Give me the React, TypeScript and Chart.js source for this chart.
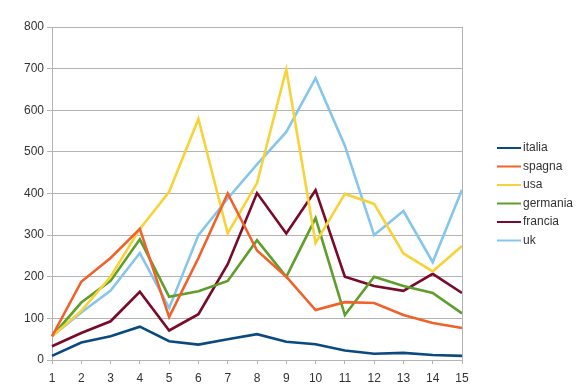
import React, { useEffect, useRef } from "react";
import { Chart, registerables } from "chart.js";

Chart.register(...registerables);

const categories = ["1","2","3","4","5","6","7","8","9","10","11","12","13","14","15"];
const italia = [10, 42, 57, 80, 45, 37, 50, 62, 44, 38, 23, 15, 17, 12, 10];
const spagna = [57, 188, 245, 315, 103, 245, 400, 263, 200, 120, 139, 137, 108, 89, 77];
const usa = [57, 118, 200, 315, 404, 579, 304, 425, 698, 281, 399, 375, 256, 213, 274];
const germania = [57, 138, 190, 290, 152, 165, 190, 288, 200, 341, 108, 200, 178, 161, 112];
const francia = [33, 65, 93, 164, 71, 110, 230, 401, 304, 408, 200, 178, 166, 207, 161];
const uk = [57, 114, 167, 257, 125, 300, 388, 470, 548, 677, 515, 300, 358, 235, 409];

const seriesNames = ["italia", "spagna", "usa", "germania", "francia", "uk"];
const seriesColors = ["#0a4a80", "#f0622a", "#f7d33a", "#5e9e2a", "#7a0a2a", "#87c6ec"];
const seriesData = [italia, spagna, usa, germania, francia, uk];

const FONT = "'Liberation Sans', Arial, sans-serif";

export default function App() {
  const ref = useRef<HTMLCanvasElement | null>(null);
  useEffect(() => {
    if (!ref.current) return;
    const frame = {
      id: "frame",
      afterDraw(chart: any) {
        const { ctx, chartArea } = chart;
        ctx.save();
        ctx.strokeStyle = "#b3b3b3";
        ctx.lineWidth = 1;
        ctx.beginPath();
        ctx.moveTo(Math.round(chartArea.right) + 0.5, chartArea.top);
        ctx.lineTo(Math.round(chartArea.right) + 0.5, chartArea.bottom);
        ctx.stroke();
        // legend
        const lx = chartArea.right + 35;
        const startY = 148;
        const rowH = 18.5;
        ctx.font = "12px " + FONT;
        ctx.textBaseline = "middle";
        ctx.textAlign = "left";
        seriesNames.forEach((n, i) => {
          const y = startY + i * rowH;
          ctx.strokeStyle = seriesColors[i];
          ctx.lineWidth = 2;
          ctx.beginPath();
          ctx.moveTo(lx, y);
          ctx.lineTo(lx + 24, y);
          ctx.stroke();
          ctx.fillStyle = "#333333";
          ctx.fillText(n, lx + 26, y);
        });
        ctx.restore();
      },
    };
    const chart = new Chart(ref.current, {
      type: "line",
      data: {
        labels: categories,
        datasets: seriesNames.map((n, i) => ({
          label: n,
          data: seriesData[i],
          borderColor: seriesColors[i],
          backgroundColor: seriesColors[i],
          borderWidth: 2.6,
          pointRadius: 0,
          tension: 0,
          fill: false,
        })),
      },
      options: {
        animation: false,
        responsive: false,
        maintainAspectRatio: false,
        layout: { padding: { left: 0, top: 27, right: 118, bottom: 0 } },
        plugins: { legend: { display: false }, tooltip: { enabled: false } },
        scales: {
          x: {
            offset: false,
            grid: { display: true, drawOnChartArea: false, drawTicks: true, tickLength: 4, color: "#b3b3b3" },
            border: { display: true, color: "#b3b3b3" },
            ticks: { font: { size: 12, family: FONT }, color: "#333333", padding: 7, maxRotation: 0, autoSkip: false },
            afterFit: (s: any) => { s.height = 28; },
          },
          y: {
            min: 0,
            max: 800,
            ticks: { stepSize: 100, font: { size: 12, family: FONT }, color: "#333333", padding: 3 },
            grid: { color: "#b3b3b3", tickLength: 5 },
            border: { display: true, color: "#b3b3b3" },
            afterFit: (s: any) => { s.width = 52; },
          },
        },
      },
      plugins: [frame],
    });
    return () => chart.destroy();
  }, []);
  return (
    <div style={{ position: "fixed", left: 0, top: 0, width: 580, height: 388, background: "#fff" }}>
      <canvas ref={ref} width={580} height={388} style={{ width: 580, height: 388 }} />
    </div>
  );
}
